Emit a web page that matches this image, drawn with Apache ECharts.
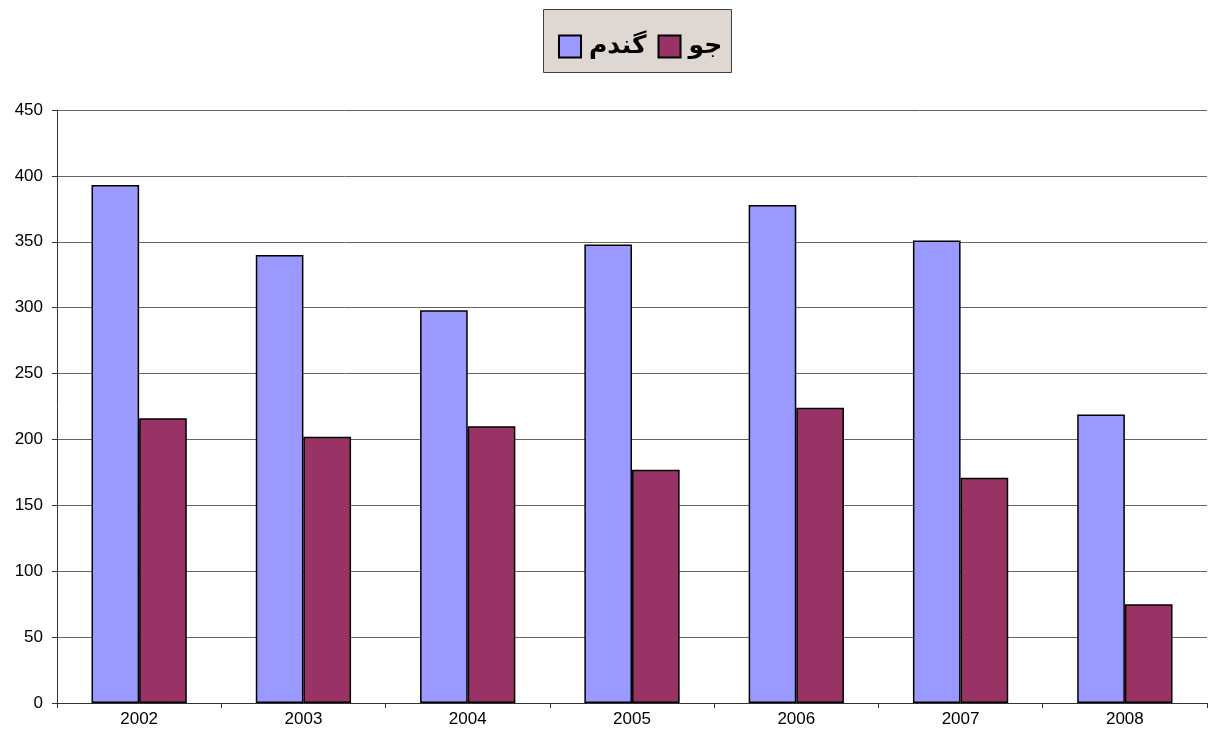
<!DOCTYPE html>
<html>
<head>
<meta charset="utf-8">
<script src="https://cdn.jsdelivr.net/npm/echarts@6/dist/echarts.min.js"></script>
<style>
  html, body { margin: 0; padding: 0; background: #fff; }
  #chart { width: 1208px; height: 742px; }
</style>
</head>
<body>
<div id="chart"></div>
<script>
const years = ["2002", "2003", "2004", "2005", "2006", "2007", "2008"];
const wheat = [393, 340, 298, 348, 378, 351, 219];   // گندم
const barley = [216, 202, 210, 177, 224, 171, 75];   // جو
const yTicks = { min: 0, max: 450, interval: 50 };

const chart = echarts.init(document.getElementById("chart"));

const barStyle = (color) => ({
  color: color,
  borderColor: "#000",
  borderWidth: 1.5
});

chart.setOption({
  animation: false,
  backgroundColor: "#fff",
  textStyle: { fontFamily: "Liberation Sans, Arial, sans-serif" },
  graphic: [{
    type: "rect",
    left: 543,
    top: 9,
    shape: { width: 188, height: 63 },
    style: { fill: "#DFD7D2", stroke: "#404040", lineWidth: 1 },
    z: 0
  }],
  legend: {
    left: 553,
    top: 29,
    itemWidth: 22,
    itemHeight: 22,
    itemGap: 11,
    icon: "rect",
    z: 10,
    textStyle: {
      fontFamily: "DejaVu Sans",
      fontWeight: "bold",
      fontSize: 25,
      color: "#000",
      padding: [0, 0, 0, 3]
    },
    data: ["گندم", "جو"]
  },
  grid: { left: 57, right: 1, top: 110, bottom: 39 },
  xAxis: {
    type: "category",
    data: years,
    axisLine: { lineStyle: { color: "#333", width: 1 } },
    axisTick: { show: true, length: 5, lineStyle: { color: "#333" } },
    axisLabel: { color: "#000", fontSize: 17, margin: 8 }
  },
  yAxis: {
    type: "value",
    min: yTicks.min,
    max: yTicks.max,
    interval: yTicks.interval,
    axisLine: { show: true, lineStyle: { color: "#333", width: 1 } },
    axisTick: { show: true, length: 5, lineStyle: { color: "#333" } },
    axisLabel: { color: "#000", fontSize: 17, margin: 14 },
    splitLine: { show: true, lineStyle: { color: "#666", width: 1 } }
  },
  series: [
    {
      name: "گندم",
      type: "bar",
      data: wheat,
      barGap: "0%",
      barCategoryGap: "42%",
      itemStyle: barStyle("#9999FF")
    },
    {
      name: "جو",
      type: "bar",
      data: barley,
      barGap: "0%",
      barCategoryGap: "42%",
      itemStyle: barStyle("#993366")
    }
  ]
});
</script>
</body>
</html>
